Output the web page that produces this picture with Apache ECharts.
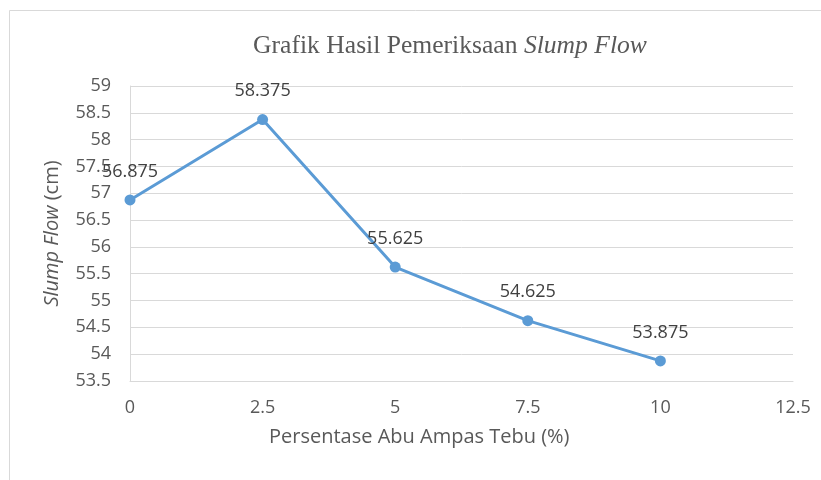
<!DOCTYPE html>
<html>
<head>
<meta charset="utf-8">
<script src="https://cdn.jsdelivr.net/npm/echarts@6/dist/echarts.min.js"></script>
<style>html,body{margin:0;padding:0;background:#fff;}#c{width:821px;height:480px;}</style>
</head>
<body>
<div id="c"></div>
<script>
var xValues = [0, 2.5, 5, 7.5, 10];
var slumpFlow = [56.875, 58.375, 55.625, 54.625, 53.875];
var titleText = 'Grafik Hasil Pemeriksaan ';
var titleItalic = 'Slump Flow';
var xAxisTitle = 'Persentase Abu Ampas Tebu (%)';

var chart = echarts.init(document.getElementById('c'), null, {renderer: 'canvas'});
var font = '"Open Sans", sans-serif';
var serif = '"Liberation Serif", serif';
chart.setOption({
  animation: false,
  backgroundColor: '#fff',
  title: {
    text: '{n|' + titleText + '}{i|' + titleItalic + '}',
    left: 445, top: 28, textAlign: 'center',
    textStyle: {
      fontWeight: 'normal',
      rich: {
        n: {fontFamily: serif, fontSize: 25.6, color: '#595959', fontWeight: 'normal'},
        i: {fontFamily: serif, fontSize: 25.6, color: '#595959', fontStyle: 'italic', fontWeight: 'normal'}
      }
    }
  },
  graphic: [
    {type: 'rect', shape: {x: 9.5, y: 10.5, width: 840, height: 500}, style: {fill: 'none', stroke: '#d9d9d9', lineWidth: 1}, silent: true},
    {type: 'text', style: {x: 269, y: 437, text: xAxisTitle, font: '20px ' + font, fill: '#595959', textVerticalAlign: 'middle', verticalAlign: 'middle'}, silent: true}
  ],
  grid: {left: 130, right: 28, top: 86, bottom: 99},
  xAxis: {
    type: 'value', min: 0, max: 12.5, interval: 2.5,
    axisLine: {show: true, lineStyle: {color: '#d9d9d9', width: 1}},
    axisTick: {show: false},
    splitLine: {show: false},
    axisLabel: {color: '#595959', fontSize: 18, fontFamily: font, margin: 18}
  },
  yAxis: {
    type: 'value', min: 53.5, max: 59, interval: 0.5,
    name: '{i|Slump Flow} (cm)', nameLocation: 'middle', nameGap: 68, nameMoveOverlap: false,
    nameTextStyle: {color: '#595959', fontSize: 20, fontFamily: font,
      rich: {i: {fontStyle: 'italic', color: '#595959', fontSize: 20, fontFamily: font}}},
    axisLine: {show: true, lineStyle: {color: '#d9d9d9', width: 1}},
    axisTick: {show: false},
    splitLine: {show: true, lineStyle: {color: '#d9d9d9', width: 1}},
    axisLabel: {color: '#595959', fontSize: 18, fontFamily: font, margin: 19,
      formatter: function (v) { return String(Math.round(v * 10) / 10); }}
  },
  series: [{
    type: 'line',
    data: xValues.map(function (x, i) { return [x, slumpFlow[i]]; }),
    lineStyle: {color: '#5b9bd5', width: 3},
    itemStyle: {color: '#5b9bd5'},
    symbol: 'circle', symbolSize: 11,
    label: {show: true, position: 'top', distance: 14, color: '#404040', fontSize: 18, fontFamily: font,
      formatter: function (p) { return String(p.value[1]); }}
  }]
});
</script>
</body>
</html>
